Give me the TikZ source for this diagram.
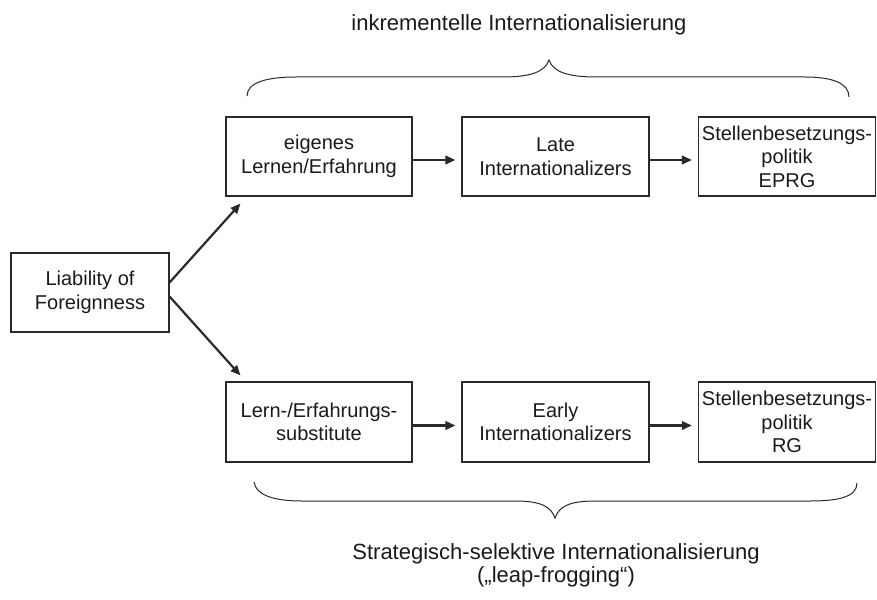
\documentclass[tikz,border=0pt]{standalone}
\usepackage{fontspec}
\setmainfont{Liberation Sans}
\usepackage{tikz}
\usetikzlibrary{arrows.meta}
\definecolor{ink}{HTML}{1A1A1A}
\definecolor{rule}{HTML}{2A2A2A}

\begin{document}
\begin{tikzpicture}[x=1pt,y=-1pt,
  box/.style={draw=rule, line width=1.1pt, text=ink, align=center, inner sep=0pt,
    minimum height=79pt, font=\fontsize{20}{23.5}\selectfont},
  arr/.style={draw=rule, line width=2.2pt, -{Triangle[length=10pt,width=8.5pt]}},
  brace/.style={draw=rule, line width=1pt},
  title/.style={text=ink, align=center, inner sep=0pt, font=\fontsize{22}{23}\selectfont}]
\useasboundingbox (0,0) rectangle (877,599);

\node[box, minimum width=158pt] (lof) at (90,292.5) {Liability of\\Foreignness};
% upper row
\node[box, minimum width=186pt] (eig) at (319,156.5) {eigenes\\Lernen/Erfahrung};
\node[box, minimum width=187pt] (late) at (555.5,156.5) {Late\\Internationalizers};
\node[box, minimum width=177pt] (eprg) at (787,156.5) {Stellenbesetzungs-\\politik\\EPRG};
% lower row
\node[box, minimum width=186pt, minimum height=80pt] (sub) at (319,422) {Lern-/Erfahrungs-\\substitute};
\node[box, minimum width=187pt, minimum height=80pt] (early) at (555.5,422) {Early\\Internationalizers};
\node[box, minimum width=177pt, minimum height=80pt] (rg) at (787,422) {Stellenbesetzungs-\\politik\\RG};

\draw[arr] ([yshift=10pt]lof.east) -- ([xshift=15pt,yshift=-7pt]eig.south west);
\draw[arr] ([yshift=-4pt]lof.east) -- ([xshift=15pt,yshift=6pt]sub.north west);
\draw[arr] ([yshift=-3.5pt]eig.east) -- ([xshift=-6pt,yshift=-3.5pt]late.west);
\draw[arr] ([yshift=-3.5pt]late.east) -- ([xshift=-6pt,yshift=-3.5pt]eprg.west);
\draw[arr] ([yshift=-3.5pt]sub.east) -- ([xshift=-6pt,yshift=-3.5pt]early.west);
\draw[arr] ([yshift=-3.5pt]early.east) -- ([xshift=-6pt,yshift=-3.5pt]rg.west);

% braces
\draw[brace] (247,96) .. controls (247,82) and (268,77) .. (296,77) -- (503,77)
  .. controls (530,77) and (545,72) .. (549,60) .. controls (553,72) and (568,77) .. (597,77)
  -- (805,77) .. controls (832,77) and (849,83) .. (849,97);
\draw[brace] (254,482) .. controls (256,496) and (276,501) .. (302,501) -- (515,501)
  .. controls (542,501) and (551,507) .. (555,518) .. controls (559,507) and (568,501) .. (595,501)
  -- (810,501) .. controls (838,501) and (857,497) .. (857,483);

\node[title, anchor=base] (inc) at (519,31) {inkrementelle Internationalisierung};
\node[title, anchor=north] (leap) at (556,543) {Strategisch-selektive Internationalisierung\\(„leap-frogging“)};
\end{tikzpicture}
\end{document}
